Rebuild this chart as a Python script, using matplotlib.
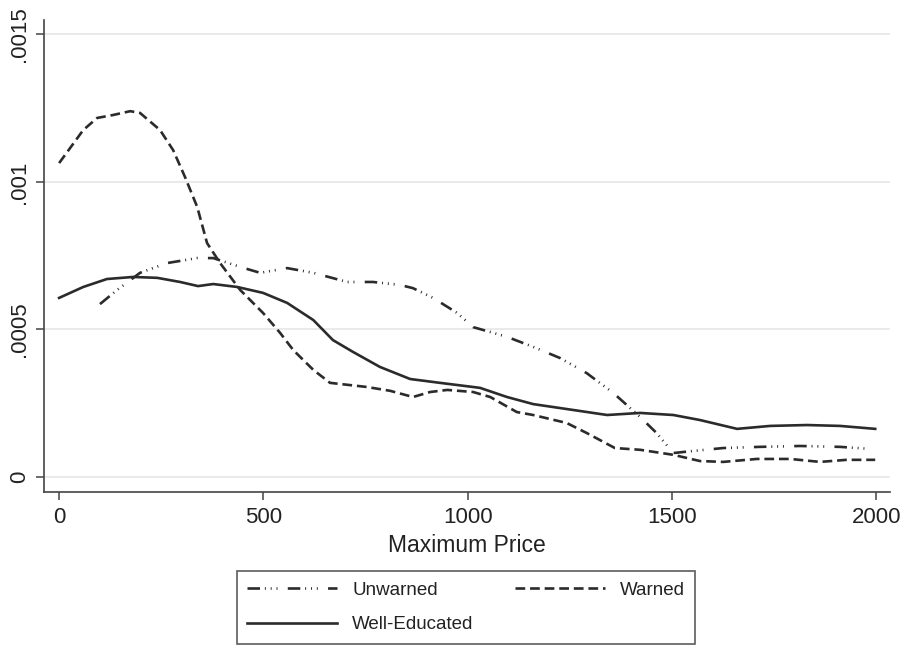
import matplotlib
matplotlib.use("Agg")
import matplotlib.pyplot as plt

# values (x = maximum price, y = density)
warned_x = [0, 59, 93, 132, 174, 198, 247, 279, 308, 338, 362, 394, 443, 499, 541,
            573, 622, 663, 753, 810, 866, 908, 950, 1013, 1055, 1120, 1160, 1242,
            1291, 1360, 1422, 1503, 1568, 1625, 1707, 1789, 1862, 1927, 1997]
warned_y = [0.001064, 0.001176, 0.001217, 0.001227, 0.00124, 0.001234, 0.001176,
            0.001108, 0.001017, 0.000915, 0.000793, 0.000725, 0.000634, 0.000556,
            0.000488, 0.00043, 0.000363, 0.000319, 0.000305, 0.000292, 0.000271,
            0.000288, 0.000295, 0.000288, 0.000271, 0.00022, 0.00021, 0.000183,
            0.000149, 0.000098, 0.000092, 0.000075, 0.000054, 0.000051, 0.000061,
            0.000061, 0.000051, 0.000058, 0.000058]

educated_x = [0, 59, 117, 181, 240, 296, 340, 377, 436, 499, 558, 622, 670, 719,
              785, 859, 932, 1030, 1096, 1160, 1258, 1341, 1422, 1503, 1568, 1659,
              1740, 1830, 1911, 1997]
educated_y = [0.000607, 0.000644, 0.000671, 0.000678, 0.000675, 0.000661, 0.000647,
              0.000654, 0.000644, 0.000624, 0.00059, 0.000532, 0.000464, 0.000424,
              0.000373, 0.000332, 0.000319, 0.000302, 0.000271, 0.000247, 0.000227,
              0.00021, 0.000217, 0.00021, 0.000193, 0.000163, 0.000173, 0.000176,
              0.000173, 0.000163]

unwarned_x = [100, 142, 198, 264, 338, 377, 443, 492, 558, 622, 705, 768, 834, 866,
              915, 974, 1013, 1096, 1160, 1226, 1291, 1356, 1422, 1462, 1503, 1551,
              1625, 1715, 1813, 1911, 1985]
unwarned_y = [0.000586, 0.000634, 0.000692, 0.000725, 0.000742, 0.000742, 0.000712,
              0.000692, 0.000708, 0.000692, 0.000661, 0.000661, 0.000651, 0.00064,
              0.000607, 0.000556, 0.000508, 0.000475, 0.000441, 0.000403, 0.000352,
              0.000285, 0.000203, 0.000149, 0.000081, 0.000088, 0.000098, 0.000102,
              0.000105, 0.000102, 0.000095]

x_ticks = [0, 500, 1000, 1500, 2000]
y_ticks = [0, 0.0005, 0.001, 0.0015]
y_labels = ["0", ".0005", ".001", ".0015"]

plt.rcParams["font.family"] = ["Liberation Sans", "DejaVu Sans"]
plt.rcParams["lines.scale_dashes"] = False

ink = "#2b2b2b"

fig = plt.figure(figsize=(9.09, 6.46), dpi=100)
ax = fig.add_axes([0.0484, 0.2384, 0.9306, 0.7306])

l_unw, = ax.plot(unwarned_x, unwarned_y, color=ink, lw=1.9,
                 dashes=(9, 3.5, 0.7, 3.5, 0.7, 3.5, 0.7, 7.4))
l_war, = ax.plot(warned_x, warned_y, color=ink, lw=1.9, dashes=(7, 3.5))
l_edu, = ax.plot(educated_x, educated_y, color=ink, lw=1.9)

ax.set_xlim(-37, 2033)
ax.set_ylim(-0.000051, 0.001549)
ax.set_xticks(x_ticks)
ax.set_yticks(y_ticks)
ax.set_yticklabels(y_labels, rotation=90, va="center")
ax.grid(axis="y", color="#e6e6e6", lw=1.2)
ax.set_axisbelow(True)

for side in ["top", "right"]:
    ax.spines[side].set_visible(False)
for side in ["left", "bottom"]:
    ax.spines[side].set_color("#444444")
    ax.spines[side].set_linewidth(1.2)

ax.tick_params(direction="out", length=6, width=1.1, color="#444444",
               labelsize=16, labelcolor="#222222")
ax.tick_params(axis="y", pad=4)
ax.tick_params(axis="x", pad=5)
ax.set_xlabel("Maximum Price", fontsize=16.5, color="#222222", labelpad=4)

# column-major fill: Unwarned / Well-Educated in column 1, Warned in column 2
leg = fig.legend([l_unw, l_edu, l_war], ["Unwarned", "Well-Educated", "Warned"],
                 loc="upper center", bbox_to_anchor=(0.5125, 0.1160), ncol=2,
                 fontsize=13.5, handlelength=4.8, handletextpad=0.8,
                 columnspacing=2.2, borderpad=0.55, labelspacing=0.95,
                 borderaxespad=0, fancybox=False, frameon=True)
leg.get_frame().set_edgecolor("#333333")
leg.get_frame().set_linewidth(1.2)
for t in leg.get_texts():
    t.set_color("#222222")

fig.savefig("out.png", dpi=100)
